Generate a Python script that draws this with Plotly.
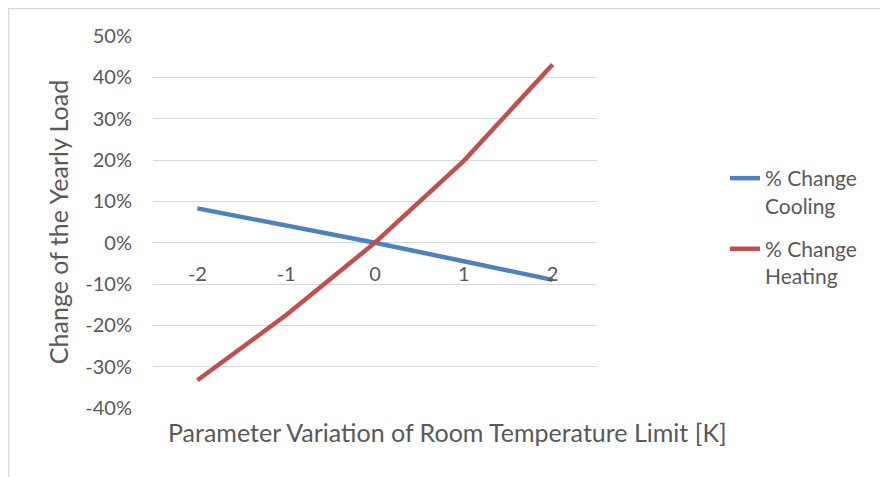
"""
Sensitivity of the yearly heating / cooling load to the room temperature limit.
"""

import plotly.graph_objects as go


VARIATION = ['-2', '-1', '0', '1', '2']
COOLING = [0.083, 0.041, 0.0, -0.045, -0.090]
HEATING = [-0.333, -0.175, 0.0, 0.198, 0.431]

Y_TICKS = [-0.4, -0.3, -0.2, -0.1, 0.0, 0.1, 0.2, 0.3, 0.4, 0.5]
Y_TICK_LABELS = ['-40%', '-30%', '-20%', '-10%', '0%', '10%', '20%', '30%', '40%', '50%']

FONT = 'Lato'
TEXT_COLOR = '#595959'
GRID_COLOR = '#d9d9d9'
COLORS = {'cooling': '#4f81bd', 'heating': '#c0504d'}

# the page body has an 8px margin, so everything is placed in page pixels
# and shifted back by that offset
OFFSET = 8
W, H = 888, 477
PLOT_X0, PLOT_X1 = 153, 597
PLOT_Y0, PLOT_Y1 = 36, 408
M_LEFT = PLOT_X0 - OFFSET
M_TOP = PLOT_Y0 - OFFSET
M_RIGHT = W - M_LEFT - (PLOT_X1 - PLOT_X0)
M_BOTTOM = H - M_TOP - (PLOT_Y1 - PLOT_Y0)
PLOT_W = PLOT_X1 - PLOT_X0
PLOT_H = PLOT_Y1 - PLOT_Y0


def px_to_paper_x(px):
    return (px - PLOT_X0) / PLOT_W


def px_to_paper_y(py):
    return (PLOT_Y1 - py) / PLOT_H


fig = go.Figure()

fig.add_trace(go.Scatter(
    x=VARIATION, y=COOLING,
    mode='lines',
    name='% Change<br>Cooling',
    legendgroup='c',
    line=dict(color=COLORS['cooling'], width=4.5),
))

fig.add_trace(go.Scatter(
    x=VARIATION, y=HEATING,
    mode='lines',
    name='% Change<br>Heating',
    legendgroup='h',
    line=dict(color=COLORS['heating'], width=4.5),
))

y_min, y_max = Y_TICKS[0], Y_TICKS[-1]
zero_pos = (0 - y_min) / (y_max - y_min)

fig.update_layout(
    width=W, height=H,
    margin=dict(l=M_LEFT, r=M_RIGHT, t=M_TOP, b=M_BOTTOM),
    paper_bgcolor='white',
    plot_bgcolor='white',
    font=dict(family=FONT, color=TEXT_COLOR, size=20),
    showlegend=True,
    legend=dict(
        x=px_to_paper_x(725), y=px_to_paper_y(158),
        xanchor='left', yanchor='top',
        font=dict(size=21, color=TEXT_COLOR),
        valign='top',
        tracegroupgap=13,
        bgcolor='rgba(0,0,0,0)',
    ),
)

fig.update_xaxes(
    type='category',
    range=[-0.5, len(VARIATION) - 0.5],
    showgrid=False,
    zeroline=False,
    showline=False,
    ticks='',
    anchor='free',
    position=zero_pos,
    ticklabelstandoff=17,
    tickfont=dict(size=20, color=TEXT_COLOR),
)

fig.update_yaxes(
    range=[y_min, y_max],
    tickvals=Y_TICKS,
    ticktext=Y_TICK_LABELS,
    showgrid=True,
    gridcolor=GRID_COLOR,
    gridwidth=1.3,
    zeroline=False,
    showline=False,
    ticks='',
    ticklabelstandoff=20,
    tickfont=dict(size=20, color=TEXT_COLOR),
    title=dict(text='Change of the Yearly Load', font=dict(size=25, color=TEXT_COLOR), standoff=9),
)

# x axis title sits at the bottom of the plot, not next to the labels
fig.add_annotation(
    text='Parameter Variation of Room Temperature Limit [K]',
    x=px_to_paper_x(447), y=px_to_paper_y(432),
    xref='paper', yref='paper',
    xanchor='center', yanchor='middle',
    showarrow=False,
    font=dict(size=25, color=TEXT_COLOR),
)

# chart frame
fig.add_shape(
    type='rect',
    xref='paper', yref='paper',
    x0=px_to_paper_x(OFFSET + 0.6), x1=px_to_paper_x(W + 20),
    y0=px_to_paper_y(H + 20), y1=px_to_paper_y(OFFSET + 0.6),
    line=dict(color=GRID_COLOR, width=1.3),
    layer='below',
)

fig.write_html("out.html")
